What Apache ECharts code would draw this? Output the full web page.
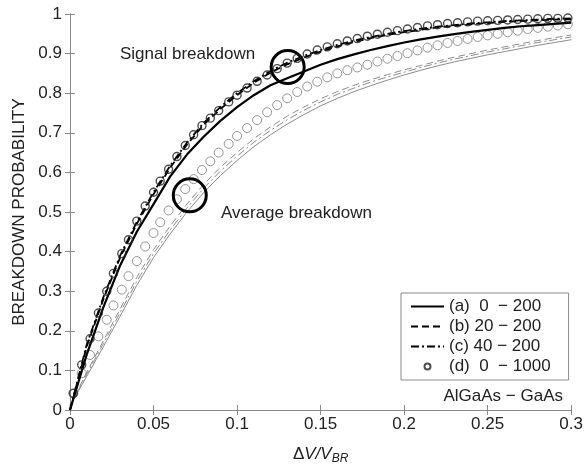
<!DOCTYPE html>
<html>
<head>
<meta charset="utf-8">
<script src="https://cdn.jsdelivr.net/npm/echarts@6/dist/echarts.min.js"></script>
<style>
  html,body{margin:0;padding:0;background:#fff;}
  #chart{width:586px;height:470px;}
</style>
</head>
<body>
<div id="chart"></div>
<script>
// x positions of the line curves
const lineX = [0,0.01,0.02,0.03,0.04,0.05,0.06,0.07,0.08,0.09,0.10,0.11,0.12,0.13,0.14,0.15,
  0.16,0.17,0.18,0.19,0.20,0.21,0.22,0.23,0.24,0.25,0.26,0.27,0.28,0.29,0.30];
// signal breakdown (black)
const sigA = [0,0.14,0.26,0.365,0.45,0.52,0.59,0.645,0.69,0.73,0.765,0.795,0.82,0.838,0.855,0.872,
  0.886,0.898,0.909,0.919,0.928,0.936,0.943,0.949,0.955,0.96,0.965,0.969,0.972,0.975,0.978];
const sigB = [0,0.16,0.28,0.385,0.47,0.545,0.612,0.67,0.72,0.76,0.795,0.826,0.852,0.873,0.89,0.905,
  0.918,0.929,0.939,0.947,0.954,0.96,0.966,0.97,0.974,0.977,0.98,0.982,0.984,0.986,0.987];
const sigC = [0,0.165,0.285,0.39,0.475,0.55,0.617,0.675,0.725,0.765,0.8,0.83,0.856,0.877,0.894,0.909,
  0.922,0.933,0.942,0.95,0.957,0.963,0.968,0.972,0.976,0.979,0.982,0.984,0.986,0.988,0.989];
// average breakdown (gray)
const avgA = [0.01,0.085,0.16,0.237,0.315,0.385,0.445,0.5,0.549,0.592,0.63,0.665,0.695,0.722,0.746,0.768,
  0.787,0.804,0.819,0.833,0.846,0.858,0.869,0.879,0.888,0.897,0.905,0.913,0.921,0.928,0.935];
const avgB = [0.01,0.095,0.175,0.255,0.335,0.405,0.465,0.52,0.57,0.613,0.65,0.685,0.715,0.742,0.765,0.786,
  0.804,0.82,0.834,0.847,0.859,0.87,0.881,0.891,0.9,0.909,0.917,0.925,0.933,0.94,0.947];
const avgC = [0.01,0.09,0.168,0.246,0.325,0.395,0.455,0.51,0.56,0.603,0.641,0.676,0.706,0.733,0.757,0.778,
  0.797,0.813,0.828,0.841,0.853,0.865,0.876,0.886,0.895,0.904,0.912,0.92,0.928,0.935,0.942];

// circle markers, case (d)
const circleX = [0.002,0.007,0.012,0.017,0.022,0.026,0.031,0.035,0.040,0.045,
  0.050,0.054,0.059,0.064,0.069,0.074,0.079,0.084,0.089,0.095,
  0.100,0.106,0.112,0.118,0.124,0.130,0.136,0.142,0.148,0.154,
  0.160,0.166,0.172,0.178,0.184,0.190,0.196,0.202,0.208,0.214,
  0.220,0.226,0.232,0.238,0.244,0.250,0.256,0.262,0.268,0.274,
  0.280,0.286,0.292,0.298];
const sigD = [0.042,0.114,0.18,0.245,0.30,0.345,0.395,0.43,0.477,0.515,
  0.55,0.578,0.608,0.64,0.668,0.695,0.718,0.737,0.756,0.778,
  0.795,0.813,0.83,0.846,0.862,0.876,0.888,0.899,0.909,0.917,
  0.925,0.932,0.938,0.944,0.949,0.954,0.958,0.962,0.966,0.97,
  0.973,0.976,0.978,0.98,0.982,0.983,0.984,0.985,0.986,0.987,
  0.988,0.989,0.989,0.99];
const avgD = [0.042,0.093,0.139,0.186,0.228,0.264,0.304,0.338,0.376,0.413,
  0.447,0.474,0.504,0.532,0.558,0.583,0.606,0.628,0.65,0.672,
  0.692,0.712,0.732,0.752,0.77,0.787,0.803,0.817,0.829,0.84,
  0.85,0.858,0.865,0.872,0.88,0.887,0.894,0.901,0.908,0.915,
  0.921,0.927,0.932,0.937,0.942,0.946,0.95,0.954,0.958,0.962,
  0.965,0.968,0.971,0.974];

const names = ['(a)  0  \u2212 200','(b) 20 \u2212 200','(c) 40 \u2212 200','(d)  0  \u2212 1000'];
// annotation rings: [x, y] in data units
const ringSignal = [0.1303,0.866];
const ringAverage = [0.0717,0.542];

const pair = (xs,ys)=>xs.map((x,i)=>[x,ys[i]]);
const FONT = 'Liberation Sans, Arial, sans-serif';
const DASH = [7,4];
const DASHDOT = [8,3,2,3];

const chart = echarts.init(document.getElementById('chart'));

const axisCommon = {
  type:'value',
  axisLine:{show:true,lineStyle:{color:'#8a8a8a',width:1}},
  axisTick:{show:true,inside:true,length:5,lineStyle:{color:'#8a8a8a'}},
  splitLine:{show:false}
};

const option = {
  backgroundColor:'#fff',
  animation:false,
  grid:{left:70,right:14,top:14,bottom:60},
  xAxis:[
    Object.assign({},axisCommon,{
      min:0,max:0.3,interval:0.05,
      name:'{n|\u0394}{i|V/V}{s|BR}',
      nameLocation:'middle',nameGap:34,
      nameTextStyle:{
        rich:{
          n:{fontFamily:FONT,fontSize:17,color:'#222'},
          i:{fontFamily:FONT,fontSize:17,fontStyle:'italic',color:'#222'},
          s:{fontFamily:FONT,fontSize:12,fontStyle:'italic',color:'#222',padding:[9,0,0,0]}
        }
      },
      axisLabel:{margin:6,color:'#222',fontFamily:FONT,fontSize:17,
        formatter:v=>String(+v.toFixed(2))}
    }),
    Object.assign({},axisCommon,{min:0,max:0.3,interval:0.05,position:'top',axisLabel:{show:false}})
  ],
  yAxis:[
    Object.assign({},axisCommon,{
      min:0,max:1,interval:0.1,
      name:'BREAKDOWN PROBABILITY',
      nameLocation:'middle',nameGap:42,
      nameTextStyle:{fontFamily:FONT,fontSize:17,color:'#222'},
      axisLabel:{margin:8,color:'#222',fontFamily:FONT,fontSize:17,
        formatter:v=>String(+v.toFixed(1))}
    }),
    Object.assign({},axisCommon,{min:0,max:1,interval:0.1,position:'right',axisLabel:{show:false}})
  ],
  legend:{
    orient:'vertical',
    left:401,top:293,
    padding:[5,18,5,9],
    itemWidth:33,itemHeight:6,itemGap:3,
    backgroundColor:'#fff',
    borderColor:'#8a8a8a',borderWidth:1,borderRadius:0,
    textStyle:{fontFamily:FONT,fontSize:17,color:'#222',lineHeight:15},
    data:[
      {name:names[0],itemStyle:{opacity:0}},
      {name:names[1],itemStyle:{opacity:0}},
      {name:names[2],itemStyle:{opacity:0}},
      {name:names[3]}
    ]
  },
  graphic:[
    {type:'text',x:120,y:54,style:{text:'Signal breakdown',font:'17px '+FONT,fill:'#222',verticalAlign:'middle'}},
    {type:'text',x:221,y:213,style:{text:'Average breakdown',font:'17px '+FONT,fill:'#222',verticalAlign:'middle'}},
    {type:'text',x:563,y:396,style:{text:'AlGaAs \u2212 GaAs',font:'17px '+FONT,fill:'#222',align:'right',verticalAlign:'middle'}}
  ],
  series:[
    {name:'avg a',type:'line',data:pair(lineX,avgA),symbol:'none',lineStyle:{color:'#8c8c8c',width:1}},
    {name:'avg b',type:'line',data:pair(lineX,avgB),symbol:'none',lineStyle:{color:'#8c8c8c',width:1,type:DASH}},
    {name:'avg c',type:'line',data:pair(lineX,avgC),symbol:'none',lineStyle:{color:'#8c8c8c',width:1,type:DASHDOT}},
    {name:'avg d',type:'scatter',data:pair(circleX,avgD),symbol:'circle',symbolSize:9,
      itemStyle:{color:'rgba(0,0,0,0)',borderColor:'#7a7a7a',borderWidth:1}},
    {name:names[0],type:'line',data:pair(lineX,sigA),symbol:'none',z:5,
      itemStyle:{color:'#000'},lineStyle:{color:'#000',width:2.2},
      markPoint:{
        symbol:'circle',symbolSize:33,silent:true,
        label:{show:false},
        itemStyle:{color:'rgba(0,0,0,0)',borderColor:'#000',borderWidth:3},
        data:[{coord:ringSignal},{coord:ringAverage}]
      }},
    {name:names[1],type:'line',data:pair(lineX,sigB),symbol:'none',z:5,
      itemStyle:{color:'#000'},lineStyle:{color:'#000',width:1.8,type:DASH}},
    {name:names[2],type:'line',data:pair(lineX,sigC),symbol:'none',z:5,
      itemStyle:{color:'#000'},lineStyle:{color:'#000',width:1.8,type:DASHDOT}},
    {name:names[3],type:'scatter',data:pair(circleX,sigD),symbol:'circle',symbolSize:8,z:5,
      itemStyle:{color:'rgba(0,0,0,0)',borderColor:'#222',borderWidth:1.4}}
  ]
};
chart.setOption(option);
</script>
</body>
</html>
